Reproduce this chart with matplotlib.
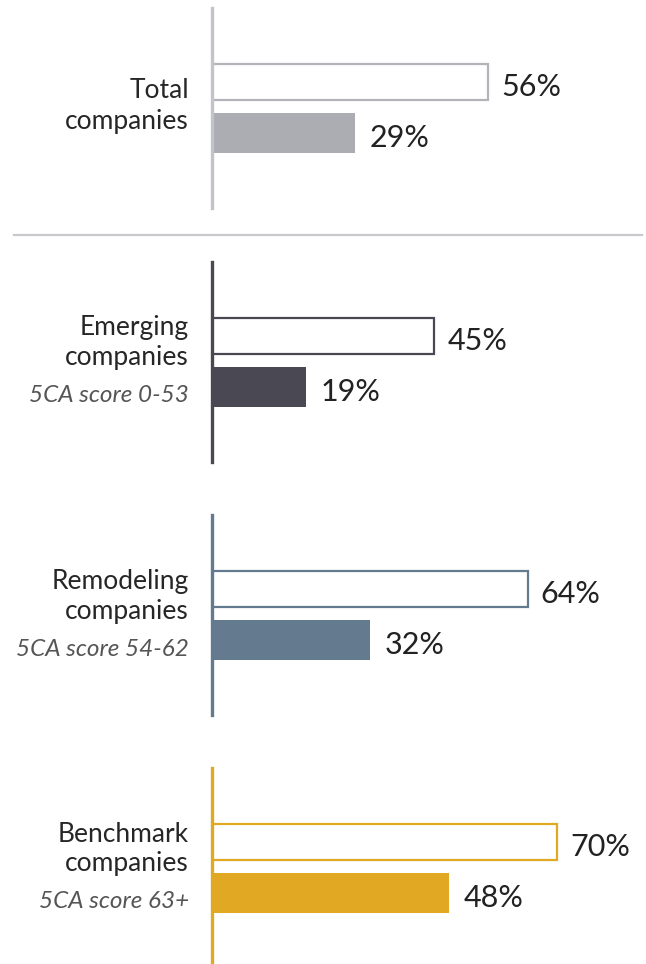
import matplotlib
matplotlib.use("Agg")
import matplotlib.pyplot as plt
from matplotlib.lines import Line2D

plt.rcParams['font.family'] = ['Lato', 'DejaVu Sans']

# data
groups = ["Total\ncompanies", "Emerging\ncompanies", "Remodeling\ncompanies", "Benchmark\ncompanies"]
subtitles = ["", "5CA score 0-53", "5CA score 54-62", "5CA score 63+"]
outline_vals = [56, 45, 64, 70]
filled_vals = [29, 19, 32, 48]

line_colors = ["#c3c3cb", "#4a4953", "#647a8f", "#e0a823"]
outline_colors = ["#b3b3ba", "#4a4953", "#647a8f", "#e0a823"]
fill_colors = ["#acacb3", "#4a4953", "#647a8f", "#e0a823"]

W, H = 646, 964
fig = plt.figure(figsize=(W / 100, H / 100), dpi=100)

tops = [8, 262, 515, 768]
x0 = 212
px_per_pct = 4.93
span = 200

for i in range(4):
    t = tops[i]
    ax = fig.add_axes([x0 / W, 1 - (t + span) / H, (W - x0) / W, span / H])
    ax.set_xlim(0, (W - x0) / px_per_pct)
    ax.set_ylim(span, 0)
    ax.axis('off')

    ax.barh(74, outline_vals[i], height=36, left=0, facecolor='white',
            edgecolor=outline_colors[i], linewidth=1.6, zorder=2)
    ax.barh(125, filled_vals[i], height=40, left=0, color=fill_colors[i],
            linewidth=0, zorder=2)
    ax.axvline(0, color=line_colors[i], lw=2.4, zorder=3, clip_on=False)

    ax.text(outline_vals[i] + 2.7, 79, f"{outline_vals[i]}%", fontsize=22,
            color="#222222", va='center', ha='left')
    ax.text(filled_vals[i] + 3.0, 130, f"{filled_vals[i]}%", fontsize=22,
            color="#222222", va='center', ha='left')

    lx = -23 / px_per_pct
    name, comp = groups[i].split("\n")
    if subtitles[i]:
        ax.text(lx, 66, name, fontsize=19, color="#262626", ha='right', va='center')
        ax.text(lx, 96, comp, fontsize=19, color="#262626", ha='right', va='center')
        ax.text(lx, 134, subtitles[i], fontsize=17.5, color="#555555", ha='right',
                va='center', style='italic')
    else:
        ax.text(lx, 83, name, fontsize=19, color="#262626", ha='right', va='center')
        ax.text(lx, 114, comp, fontsize=19, color="#262626", ha='right', va='center')

fig.add_artist(Line2D([14 / W, 642 / W], [1 - 235 / H] * 2, color="#c8c8cd", lw=1.6))

fig.savefig("out.png", dpi=100)
